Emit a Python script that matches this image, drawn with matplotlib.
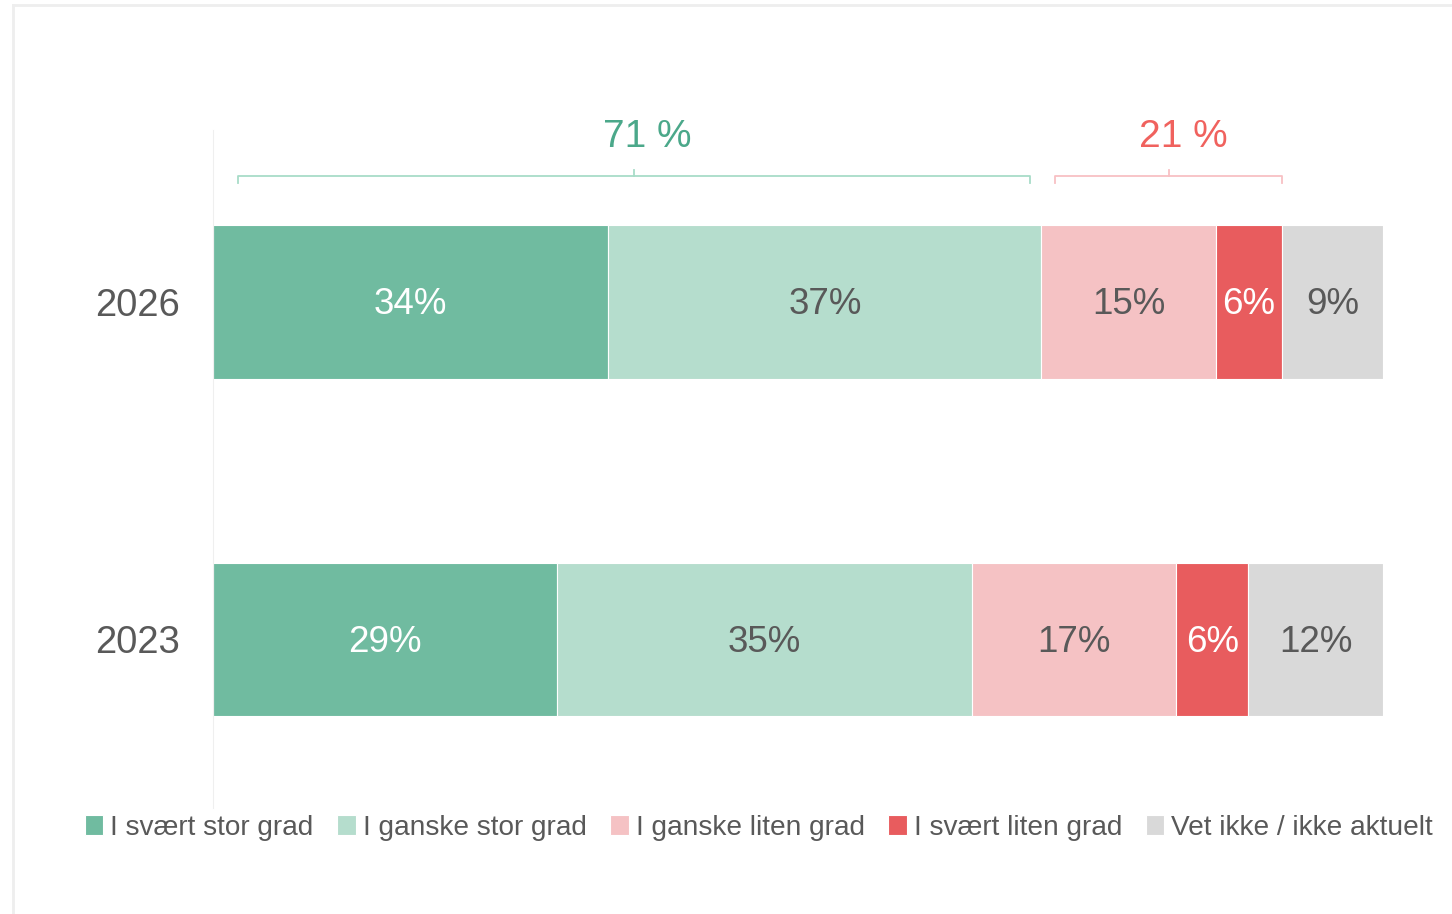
import numpy as np
import matplotlib
import matplotlib.pyplot as plt
from matplotlib.lines import Line2D

matplotlib.rcParams['font.family'] = ['Liberation Sans', 'DejaVu Sans']

# data (shares in %, labels as printed)
years = ['2023', '2026']
categories = ['I svært stor grad', 'I ganske stor grad', 'I ganske liten grad',
              'I svært liten grad', 'Vet ikke / ikke aktuelt']
share_2023 = [29.4, 35.5, 17.4, 6.2, 11.5]
share_2026 = [33.8, 37.0, 14.9, 5.7, 8.6]
labels_2023 = ['29%', '35%', '17%', '6%', '12%']
labels_2026 = ['34%', '37%', '15%', '6%', '9%']
sum_positive = '71 %'
sum_negative = '21 %'

colors = ['#70BBA0', '#B5DDCD', '#F5C2C4', '#E85C5E', '#D9D9D9']
text_colors = ['white', '#595959', '#595959', 'white', '#595959']

fig = plt.figure(figsize=(14.52, 9.14), dpi=100)
# light frame (top and left edges only)
x0f, y0f = 13/1452, 1 - 5/914
fig.add_artist(Line2D([x0f, 1.0], [y0f, y0f], transform=fig.transFigure, color='#EEEEEE', lw=2))
fig.add_artist(Line2D([x0f, x0f], [0, y0f], transform=fig.transFigure, color='#EEEEEE', lw=2))

ax = fig.add_axes([213/1452, 1 - 808/914, 1170/1452, 678/914])

shares = np.array([share_2023, share_2026])
rows = [labels_2023, labels_2026]
ypos = np.arange(len(years))
left = np.zeros(len(years))
for i, cat in enumerate(categories):
    ax.barh(ypos, shares[:, i], left=left, height=0.455, color=colors[i],
            edgecolor='white', linewidth=0.8, label=cat)
    for j in range(len(years)):
        ax.text(left[j] + shares[j, i] / 2, ypos[j] - 0.008, rows[j][i], ha='center', va='center',
                fontsize=26.5, color=text_colors[i])
    left += shares[:, i]

ax.set_xlim(0, shares.sum(axis=1).max())
ax.set_ylim(-0.5, 1.51)
ax.set_yticks(ypos)
ax.set_yticklabels(years, fontsize=27.5, color='#595959')
ax.tick_params(axis='y', length=0, pad=24)
ax.set_xticks([])
for s in ['top', 'right', 'bottom']:
    ax.spines[s].set_visible(False)
ax.spines['left'].set_color('#EFEFEF')

# brackets over the 2026 bar
cum = np.cumsum(share_2026)
def bracket(x0, x1, col, tcol, txt):
    yb, yend, ytop = 1.373, 1.352, 1.392
    xm = (x0 + x1) / 2
    ax.plot([x0, x0, x1, x1], [yend, yb, yb, yend], color=col, lw=1.3, clip_on=False)
    ax.plot([xm, xm], [yb, ytop], color=col, lw=1.3, clip_on=False)
    ax.text(xm + 1.2, 1.49, txt, ha='center', va='center', fontsize=28, color=tcol, clip_on=False)

bracket(2.1, cum[1] - 1.0, '#A8DCC8', '#4BA88A', sum_positive)
bracket(cum[1] + 1.2, cum[3], '#F8C0C4', '#F0625E', sum_negative)

fig.legend(loc='center', bbox_to_anchor=(759/1452, 1 - 828/914), ncol=5, frameon=False,
           fontsize=20.2, handlelength=0.65, handleheight=0.7, handletextpad=0.25,
           columnspacing=0.85, labelcolor='#595959')

fig.savefig('out.png', dpi=100)
